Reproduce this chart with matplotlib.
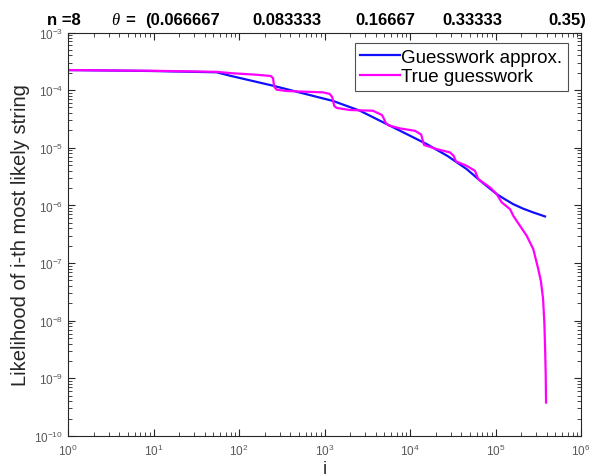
import matplotlib
matplotlib.use("Agg")
import matplotlib.pyplot as plt
from matplotlib.ticker import LogLocator, NullFormatter

plt.rcParams['font.family'] = ['Liberation Sans', 'DejaVu Sans']
plt.rcParams['mathtext.fontset'] = 'custom'
plt.rcParams['mathtext.rm'] = 'Liberation Sans'
plt.rcParams['mathtext.it'] = 'Liberation Serif:italic'

# values
approx_i = [1, 9.1, 54.8, 78.5, 252, 1268, 2600, 6380, 15670, 27500, 46000,
            65900, 103300, 130000, 161600, 210000, 276800, 379500]
approx_p = [2.23e-4, 2.15e-4, 2.04e-4, 1.78e-4, 1.19e-4, 6.47e-5, 4.39e-5,
            2.26e-5, 1.16e-5, 7.2e-6, 4.27e-6, 2.70e-6, 1.57e-6, 1.27e-6,
            1.05e-6, 8.8e-7, 7.55e-7, 6.44e-7]

true_i = [1, 9.1, 54.8, 85, 161, 235, 250, 258, 275, 361, 960, 1150, 1230,
          1300, 1400, 1987, 3690, 4700, 4950, 5200, 5600, 7640, 11430, 13500,
          14000, 14600, 20500, 29400, 32500, 34500, 46000, 57500, 62900, 86300,
          103300, 118200, 147900, 161600, 193500, 231900, 276800, 316600,
          340000, 360000, 373000, 381000, 386500, 390000]
true_p = [2.23e-4, 2.17e-4, 2.08e-4, 1.96e-4, 1.85e-4, 1.76e-4, 1.62e-4,
          1.15e-4, 1.02e-4, 9.65e-5, 9.16e-5, 8.6e-5, 7.6e-5, 5.3e-5, 4.9e-5,
          4.52e-5, 4.39e-5, 3.7e-5, 3.2e-5, 2.7e-5, 2.45e-5, 2.17e-5, 1.97e-5,
          1.7e-5, 1.4e-5, 1.12e-5, 9.5e-6, 8.3e-6, 7.2e-6, 5.8e-6, 4.87e-6,
          3.99e-6, 2.86e-6, 2.05e-6, 1.57e-6, 1.13e-6, 8.63e-7, 6.60e-7,
          4.42e-7, 2.97e-7, 1.74e-7, 7.83e-8, 4.8e-8, 2.4e-8, 9.0e-9, 3.0e-9,
          1.2e-9, 3.8e-10]

x_decades = [0, 1, 2, 3, 4, 5, 6]
y_decades = [-10, -9, -8, -7, -6, -5, -4, -3]

title_parts = ["n =8", r"$\theta$", "=", "(0.066667", "0.083333", "0.16667",
               "0.33333", "0.35)"]
title_x = [47, 111, 125, 145, 252, 355, 442, 548]

W, H = 611, 477
fig = plt.figure(figsize=(W / 100, H / 100), dpi=100)
ax = fig.add_axes([68 / W, (H - 437) / H, 513 / W, 403.5 / H])

ax.loglog(approx_i, approx_p, color='#1010ff', lw=1.6, label='Guesswork approx.')
ax.loglog(true_i, true_p, color='#ff00ff', lw=1.6, label='True guesswork')

ax.set_xticks([10.0 ** k for k in x_decades])
ax.set_yticks([10.0 ** k for k in y_decades])
ax.set_xticks([m * 10.0 ** k for k in x_decades[:-1] for m in range(2, 10)], minor=True)
ax.set_yticks([m * 10.0 ** k for k in y_decades[:-1] for m in range(2, 10)], minor=True)
ax.xaxis.set_minor_formatter(NullFormatter())
ax.yaxis.set_minor_formatter(NullFormatter())
ax.set_xlim(1, 1e6)
ax.set_ylim(1e-10, 1e-3)
ax.tick_params(which='both', direction='in', top=True, right=True, colors='0.15',
               labelcolor='0.35', labelsize=8.5)
ax.tick_params(axis='x', which='major', pad=5)
ax.tick_params(which='major', length=5, width=0.8)
ax.tick_params(which='minor', length=3, width=0.6, labelbottom=False, labelleft=False)
for s in ax.spines.values():
    s.set_color('0.15')
    s.set_linewidth(0.8)

ax.set_xlabel('i', fontsize=13, color='0.15', labelpad=1)
ax.set_ylabel('Likelihood of i-th most likely string', fontsize=14.5, color='0.15', labelpad=3)

leg = ax.legend(loc='upper right', bbox_to_anchor=(0.975, 0.974), fontsize=13.5,
                frameon=True, fancybox=False, edgecolor='0.15', handlelength=2.1,
                handletextpad=0.1, labelspacing=0.12, borderpad=0.3, borderaxespad=0)
leg.get_frame().set_linewidth(0.8)

for txt, x in zip(title_parts, title_x):
    fig.text(x / W, 1 - 25 / H, txt, fontsize=12, fontweight='bold',
             ha='left', va='baseline', color='k')

fig.savefig('out.png', dpi=100)
